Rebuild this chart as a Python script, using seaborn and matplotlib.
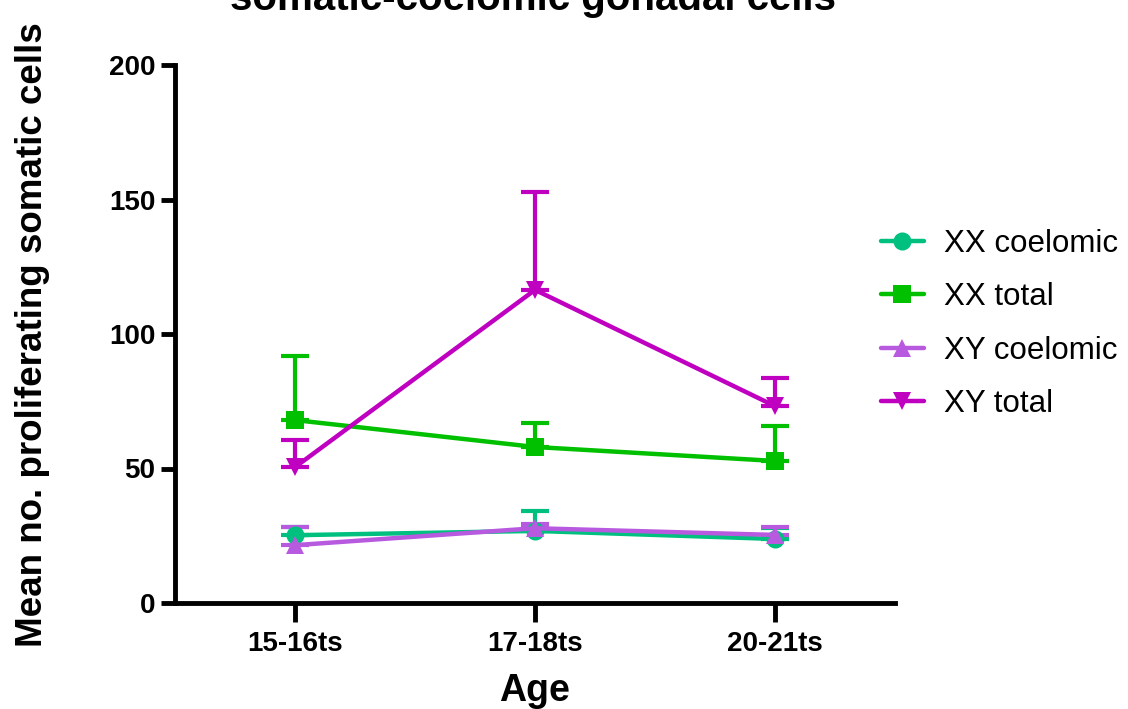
import numpy as np
import pandas as pd
import matplotlib
matplotlib.use("Agg")
import matplotlib.pyplot as plt
import seaborn as sns

# Age groups and series values (mean and upper SEM)
ages = ["15-16ts", "17-18ts", "20-21ts"]
series = ["XX coelomic", "XX total", "XY coelomic", "XY total"]
xx_coelomic = [25.2, 26.8, 23.8]
xx_coelomic_err = [3.0, 7.4, 4.2]
xx_total = [68.0, 58.0, 52.8]
xx_total_err = [24.0, 9.0, 13.0]
xy_coelomic = [21.5, 27.8, 25.3]
xy_coelomic_err = [6.8, 1.5, 3.0]
xy_total = [50.5, 116.4, 73.2]
xy_total_err = [10.0, 36.4, 10.5]

colors = ["#00C080", "#00C000", "#B85AE0", "#C000C0"]
markers = ["o", "s", "^", "v"]

means = [xx_coelomic, xx_total, xy_coelomic, xy_total]
errs = [xx_coelomic_err, xx_total_err, xy_coelomic_err, xy_total_err]

df = pd.DataFrame({
    "pos": np.tile(np.arange(len(ages)), len(series)),
    "value": np.concatenate(means),
    "series": np.repeat(series, len(ages)),
})

sns.set_style("ticks")
plt.rcParams["font.family"] = ["Liberation Sans", "DejaVu Sans"]
plt.rcParams["text.color"] = "black"
plt.rcParams["axes.labelcolor"] = "black"
plt.rcParams["xtick.color"] = "black"
plt.rcParams["ytick.color"] = "black"

fig = plt.figure(figsize=(11.28, 7.09), dpi=100)
ax = fig.add_axes([175 / 1128, 1 - 603 / 709, 720 / 1128, 538 / 709])

# Upper-only error bars, drawn beneath the lines
for m, e, c in zip(means, errs, colors):
    ax.errorbar(np.arange(len(ages)), m, yerr=[np.zeros(len(m)), e],
                fmt="none", ecolor=c, elinewidth=3, capsize=10, capthick=3, zorder=2)

sns.lineplot(data=df, x="pos", y="value", hue="series", style="series",
             hue_order=series, style_order=series,
             palette=colors, markers=dict(zip(series, markers)),
             dashes=False, markersize=13, linewidth=3.2, markeredgewidth=0,
             ax=ax, zorder=3)

ax.set_xlim(-0.5, 2.5)
ax.set_ylim(0, 200)
ax.set_xticks(range(len(ages)))
ax.set_xticklabels(ages, fontsize=20, fontweight="bold")
ax.set_yticks([0, 50, 100, 150, 200])
ax.set_yticklabels(["0", "50", "100", "150", "200"], fontsize=20, fontweight="bold")
ax.set_xlabel("Age", fontsize=27, fontweight="bold", labelpad=12)
ax.set_ylabel("Mean no. proliferating somatic cells", fontsize=26.5, fontweight="bold")
ax.yaxis.set_label_coords(-125 / 720, (603 - 335) / 538)
for side in ["top", "right"]:
    ax.spines[side].set_visible(False)
for side in ["left", "bottom"]:
    ax.spines[side].set_linewidth(3.5)
    ax.spines[side].set_color("black")
ax.tick_params(axis="x", length=14, width=3.5, pad=6, colors="black")
ax.tick_params(axis="y", length=10, width=3.5, pad=4, colors="black")

fig.text(533 / 1128, 1 - 10 / 709, "somatic-coelomic gonadal cells",
         ha="center", va="baseline", fontsize=29, fontweight="bold")

handles, labels = ax.get_legend_handles_labels()
ax.legend(handles, labels, loc="center left", bbox_to_anchor=(885 / 720 - 175 / 720 - 0.005, 1 - (324 - 65) / 538),
          frameon=False, fontsize=22.5, handlelength=1.35, handletextpad=0.65,
          labelspacing=0.75, borderaxespad=0.0, borderpad=0.0)

fig.savefig("out.png", dpi=100)
